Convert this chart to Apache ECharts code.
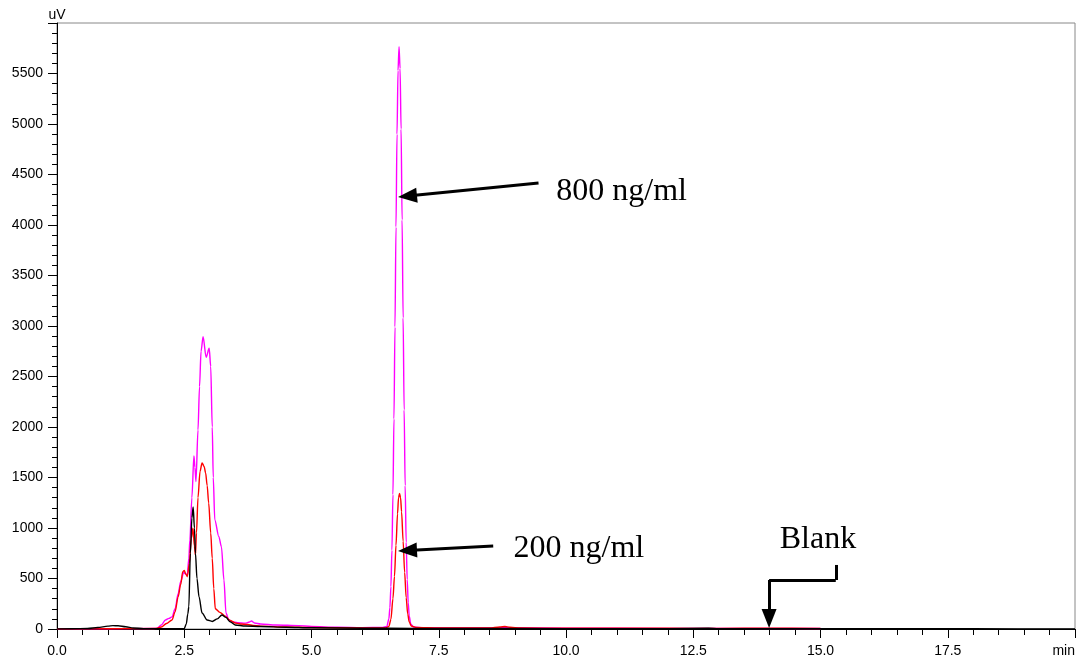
<!DOCTYPE html>
<html>
<head>
<meta charset="utf-8">
<script src="https://cdn.jsdelivr.net/npm/echarts@6/dist/echarts.min.js"></script>
<style>html,body{margin:0;padding:0;background:#fff;}#c{width:1079px;height:661px;}</style>
</head>
<body>
<div id="c"></div>
<script>
// Retention time (min) / signal (uV) pairs
var blankTrace = [
  [0,0],[0.3,2],[0.6,5],[0.8,15],[1.0,28],[1.1,33],[1.2,32],[1.35,22],[1.5,10],[1.7,4],[2.0,3],[2.3,3],[2.5,5],
  [2.54,50],[2.57,150],[2.59,221],[2.62,750],[2.65,1100],[2.675,1208],[2.70,1000],[2.72,750],[2.75,500],[2.79,320],
  [2.85,158],[2.95,89],[3.05,75],[3.15,100],[3.24,139],[3.32,115],[3.4,72],[3.5,40],[3.7,30],[4.0,25],[4.5,18],
  [5.0,12],[6.0,8],[7.0,6],[8.0,5],[10.0,4],[12.0,4],[12.8,8],[13.0,4],[15.0,3],[16.0,2],[18.0,2],[20.0,1]
];
var trace200 = [
  [0,0],[1.0,2],[1.95,5],[2.05,20],[2.15,55],[2.26,89],[2.32,170],[2.38,320],[2.43,440],[2.47,567],[2.50,580],
  [2.53,545],[2.56,518],[2.60,650],[2.64,900],[2.67,997],[2.70,820],[2.72,733],[2.74,950],[2.77,1300],[2.81,1560],
  [2.85,1645],[2.89,1610],[2.92,1545],[2.95,1420],[2.98,1247],[3.02,950],[3.05,700],[3.08,400],[3.11,200],[3.2,165],
  [3.3,130],[3.4,85],[3.5,60],[3.6,50],[3.75,45],[3.85,35],[4.0,28],[4.5,20],[5.0,15],[6.0,10],[6.45,10],
  [6.52,25],[6.56,95],[6.60,300],[6.63,520],[6.66,830],[6.69,1140],[6.71,1300],[6.73,1343],[6.75,1300],[6.77,1160],
  [6.80,870],[6.83,560],[6.86,310],[6.89,150],[6.92,70],[6.96,30],[7.05,15],[7.5,10],[8.5,10],[8.7,20],[8.8,25],
  [8.9,18],[9.1,10],[10.0,8],[12.0,7],[13.0,6],[14.0,8],[15.0,5]
];
var trace800 = [
  [0,0],[1.0,3],[1.9,5],[1.97,8],[2.05,40],[2.13,89],[2.2,105],[2.26,120],[2.32,200],[2.38,350],[2.43,470],
  [2.49,560],[2.53,545],[2.56,535],[2.59,700],[2.61,881],[2.65,1300],[2.69,1713],[2.71,1600],[2.73,1460],
  [2.77,1970],[2.80,2400],[2.83,2750],[2.87,2894],[2.93,2690],[2.99,2779],[3.02,2600],[3.05,2000],[3.07,1500],
  [3.10,1079],[3.18,914],[3.23,815],[3.28,485],[3.32,158],[3.37,95],[3.43,72],[3.55,62],[3.7,58],[3.78,70],
  [3.82,79],[3.88,60],[4.0,50],[4.3,40],[4.75,33],[5.0,25],[5.5,18],[6.0,14],[6.40,15],[6.48,25],[6.52,100],
  [6.54,210],[6.56,420],[6.58,780],[6.60,1330],[6.62,2080],[6.64,2990],[6.66,3980],[6.68,4900],[6.70,5530],
  [6.72,5765],[6.74,5550],[6.76,4950],[6.78,4050],[6.80,3080],[6.82,2170],[6.84,1420],[6.86,860],[6.88,490],
  [6.90,260],[6.92,130],[6.95,50],[7.0,20],[7.2,12],[8.0,10],[8.8,12],[10.0,8],[12.0,6],[15.0,5]
];
var annotationTexts = ['800 ng/ml', '200 ng/ml', 'Blank'];

var chart = echarts.init(document.getElementById('c'), null, {renderer: 'canvas'});
var labelFont = {fontFamily: 'Liberation Sans, Arial, sans-serif', fontSize: 14, color: '#000'};
var arrowHead = {symbol: 'triangle', symbolSize: [15, 19]};

chart.setOption({
  animation: false,
  backgroundColor: '#fff',
  grid: {left: 57, right: 4, top: 23, bottom: 32, show: true, borderColor: '#888', borderWidth: 1},
  xAxis: {
    type: 'value', min: 0, max: 20, interval: 2.5,
    axisLine: {show: true, lineStyle: {color: '#000', width: 1}},
    axisTick: {show: true, length: 9, lineStyle: {color: '#000'}},
    minorTick: {show: true, splitNumber: 5, length: 6, lineStyle: {color: '#000'}},
    splitLine: {show: false},
    axisLabel: Object.assign({margin: 15, alignMaxLabel: 'right',
      formatter: function (v) { return v === 20 ? 'min' : v.toFixed(1); }}, labelFont)
  },
  yAxis: {
    type: 'value', min: 0, max: 6000, interval: 500,
    name: 'uV', nameLocation: 'end', nameGap: 1,
    nameTextStyle: {fontFamily: 'Liberation Sans, Arial, sans-serif', fontSize: 14, color: '#000'},
    axisLine: {show: true, lineStyle: {color: '#000', width: 1}},
    axisTick: {show: true, length: 9, lineStyle: {color: '#000'}},
    minorTick: {show: true, splitNumber: 5, length: 5, lineStyle: {color: '#000'}},
    splitLine: {show: false},
    axisLabel: Object.assign({margin: 14,
      formatter: function (v) { return v === 6000 ? '' : String(v); }}, labelFont)
  },
  series: [
    {type: 'line', name: '800 ng/ml', data: trace800, showSymbol: false, smooth: 0.3, smoothMonotone: 'x',
     lineStyle: {color: '#FF00FF', width: 1.4}, silent: true},
    {type: 'line', name: '200 ng/ml', data: trace200, showSymbol: false, smooth: 0.3, smoothMonotone: 'x',
     lineStyle: {color: '#FF0000', width: 1.4}, silent: true},
    {type: 'line', name: 'Blank', data: blankTrace, showSymbol: false, smooth: 0.3, smoothMonotone: 'x',
     lineStyle: {color: '#000000', width: 1.4}, silent: true},
    {type: 'line', name: 'annotations', data: [], silent: true,
     markLine: {
       silent: true, symbol: ['none', 'none'], animation: false,
       label: {show: false},
       lineStyle: {color: '#000', width: 3, type: 'solid'},
       emphasis: {disabled: true},
       data: [
         [{coord: [9.46, 4416]}, Object.assign({coord: [6.886, 4286]}, arrowHead)],
         [{coord: [8.57, 822]}, Object.assign({coord: [6.886, 777]}, arrowHead)],
         [{coord: [15.30, 634]}, {coord: [15.30, 485]}],
         [{coord: [15.30, 485]}, {coord: [13.99, 485]}],
         [{coord: [13.99, 485]}, Object.assign({coord: [13.99, 104]}, arrowHead)]
       ]
     },
     markPoint: {
       silent: true, symbol: 'circle', symbolSize: 0, animation: false,
       label: {show: true, position: 'right', distance: 0, color: '#000',
               fontFamily: 'Liberation Serif, Times New Roman, serif', fontSize: 32,
               formatter: function (p) { return p.name; }},
       data: [
         {name: annotationTexts[0], coord: [9.81, 4326]},
         {name: annotationTexts[1], coord: [8.97, 795]},
         {name: annotationTexts[2], coord: [14.20, 881]}
       ]
     }}
  ]
});
</script>
</body>
</html>
